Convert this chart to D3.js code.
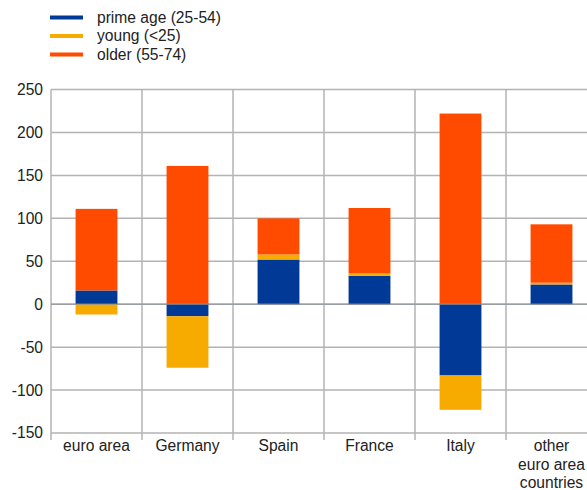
<!DOCTYPE html>
<html>
<head>
<meta charset="utf-8">
<script src="https://cdn.jsdelivr.net/npm/d3@7"></script>
<style>
  body { margin: 0; background: #fff; }
  text { font-family: "Liberation Sans", Arial, sans-serif; fill: #222; }
</style>
</head>
<body>
<div id="chart"></div>
<script>
// data
const categories = ["euro area", "Germany", "Spain", "France", "Italy", "other\neuro area\ncountries"];
const primeAge = [16, -14, 52, 33, -83, 23];
const young = [-12, -60, 6, 3, -40, 2];
const older = [95, 161, 42, 76, 222, 68];
const yTicks = [-150, -100, -50, 0, 50, 100, 150, 200, 250];

const seriesNames = ["prime age (25-54)", "young (<25)", "older (55-74)"];
const colors = ["#003a96", "#f7aa00", "#ff4b00"];

// constants
const width = 587, height = 490;
const plotLeft = 51, plotRight = 597, plotTop = 89.5, plotBottom = 433;
const fontSize = 15.6;

const svg = d3.select("#chart")
  .append("svg")
  .attr("width", width)
  .attr("height", height);

// build rows for the stack
const rows = categories.map((c, i) => ({cat: c, prime: primeAge[i], young: young[i], older: older[i]}));
const keys = ["prime", "young", "older"];
const stacked = d3.stack().keys(keys).offset(d3.stackOffsetDiverging)(rows);

const x = d3.scaleBand().domain(categories).range([plotLeft, plotRight]);
const y = d3.scaleLinear().domain([-150, 250]).range([plotBottom, plotTop]);

const grid = "#b3b3b3";

// horizontal grid
svg.append("g")
  .selectAll("line")
  .data(yTicks)
  .join("line")
    .attr("x1", plotLeft).attr("x2", plotRight)
    .attr("y1", d => y(d)).attr("y2", d => y(d))
    .attr("stroke", grid).attr("stroke-width", 1.5);

// vertical separators (extend a bit below the plot)
svg.append("g")
  .selectAll("line")
  .data(categories.map(c => x(c)))
  .join("line")
    .attr("x1", d => d).attr("x2", d => d)
    .attr("y1", plotTop).attr("y2", plotBottom + 7)
    .attr("stroke", grid).attr("stroke-width", 1.5);

// bars
const barW = x.bandwidth() * 0.46;
svg.append("g")
  .selectAll("g")
  .data(stacked)
  .join("g")
    .attr("fill", (d, i) => colors[i])
  .selectAll("rect")
  .data(d => d)
  .join("rect")
    .attr("x", d => x(d.data.cat) + (x.bandwidth() - barW) / 2)
    .attr("width", barW)
    .attr("y", d => y(Math.max(d[0], d[1])))
    .attr("height", d => Math.abs(y(d[0]) - y(d[1])));

// zero line on top of bars
svg.append("line")
  .attr("x1", plotLeft).attr("x2", plotRight)
  .attr("y1", y(0)).attr("y2", y(0))
  .attr("stroke", "#8a8f99").attr("stroke-width", 1.2)
  .attr("opacity", 0.8);

// y tick labels
svg.append("g")
  .selectAll("text")
  .data(yTicks)
  .join("text")
    .attr("x", plotLeft - 8)
    .attr("y", d => y(d))
    .attr("dy", "0.35em")
    .attr("text-anchor", "end")
    .attr("font-size", fontSize)
    .text(d => d);

// category labels (multi-line)
const cats = svg.append("g")
  .selectAll("text")
  .data(categories)
  .join("text")
    .attr("x", d => x(d) + x.bandwidth() / 2)
    .attr("y", 451)
    .attr("text-anchor", "middle")
    .attr("font-size", fontSize);
cats.selectAll("tspan")
  .data(d => d.split("\n"))
  .join("tspan")
    .attr("x", function() { return this.parentNode.getAttribute("x"); })
    .attr("dy", (d, i) => i === 0 ? 0 : 18.7)
    .text(d => d);

// legend
const legend = svg.append("g")
  .selectAll("g")
  .data(seriesNames)
  .join("g")
    .attr("transform", (d, i) => `translate(50,${17.5 + i * 18.5})`);
legend.append("line")
  .attr("x1", 0).attr("x2", 33)
  .attr("stroke", (d, i) => colors[i])
  .attr("stroke-width", 4);
legend.append("text")
  .attr("x", 47)
  .attr("dy", "0.35em")
  .attr("font-size", fontSize)
  .text(d => d);
</script>
</body>
</html>
